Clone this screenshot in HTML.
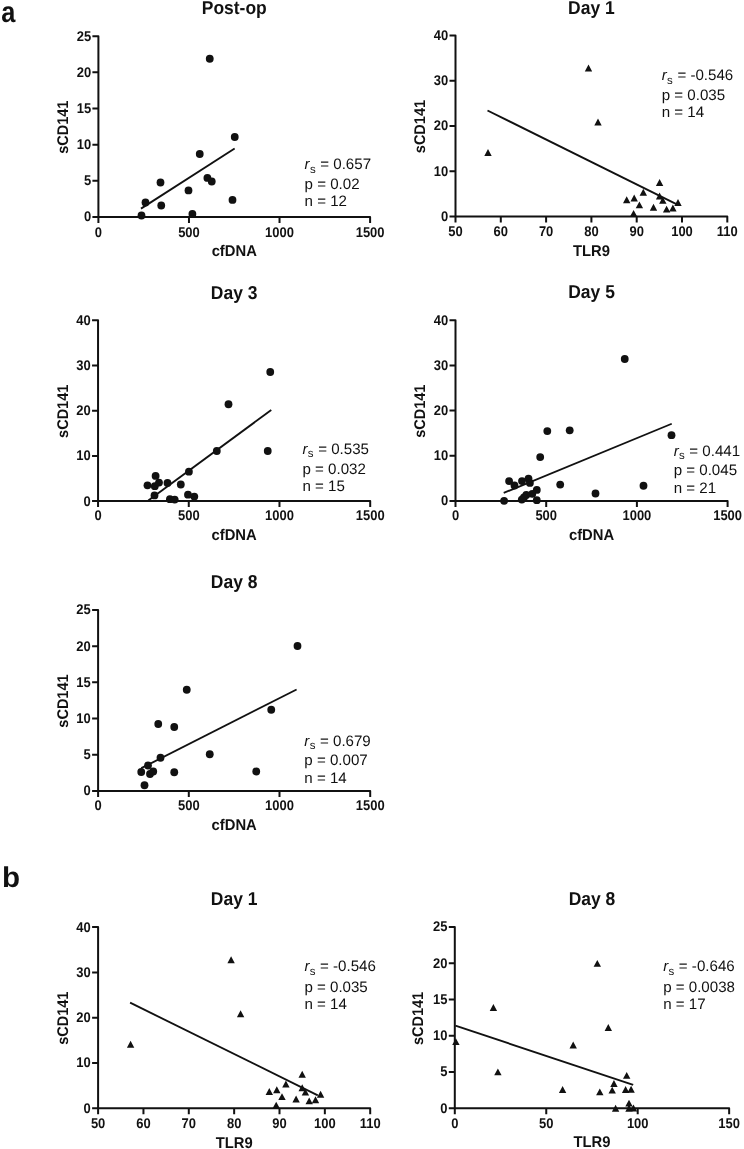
<!DOCTYPE html>
<html lang="en"><head><meta charset="utf-8"><title>Figure</title>
<style>html,body{margin:0;padding:0;background:#fff}svg{display:block;will-change:transform;text-rendering:geometricPrecision}</style></head>
<body>
<svg width="744" height="1149" viewBox="0 0 744 1149" font-family='"Liberation Sans", sans-serif' fill="#111">
<rect width="744" height="1149" fill="#fff"/>
<text transform="translate(1.30 22.00) scale(0.86 1)" font-size="29.5" font-weight="bold" text-anchor="start">a</text>
<text transform="translate(2.10 887.10) scale(1.03 1)" font-size="28.7" font-weight="bold" text-anchor="start">b</text>
<g><!-- Post-op -->
<text transform="translate(234.25 14.40) scale(0.935 1)" font-size="18.7" font-weight="bold" text-anchor="middle">Post-op</text>
<path d="M92.40 36.20H98.40V223.00M92.40 217.00H370.10v6.0M188.97 217.00v6.0M279.53 217.00v6.0M98.40 180.84h-6.0M98.40 144.68h-6.0M98.40 108.52h-6.0M98.40 72.36h-6.0" fill="none" stroke="#111" stroke-width="2" stroke-linejoin="round"/>
<text transform="translate(98.40 236.90) scale(0.92 1)" font-size="14.1" font-weight="bold" text-anchor="middle">0</text>
<text transform="translate(188.97 236.90) scale(0.92 1)" font-size="14.1" font-weight="bold" text-anchor="middle">500</text>
<text transform="translate(279.53 236.90) scale(0.92 1)" font-size="14.1" font-weight="bold" text-anchor="middle">1000</text>
<text transform="translate(370.10 236.90) scale(0.92 1)" font-size="14.1" font-weight="bold" text-anchor="middle">1500</text>
<text transform="translate(91.10 221.40) scale(0.92 1)" font-size="14.1" font-weight="bold" text-anchor="end">0</text>
<text transform="translate(91.10 185.24) scale(0.92 1)" font-size="14.1" font-weight="bold" text-anchor="end">5</text>
<text transform="translate(91.10 149.08) scale(0.92 1)" font-size="14.1" font-weight="bold" text-anchor="end">10</text>
<text transform="translate(91.10 112.92) scale(0.92 1)" font-size="14.1" font-weight="bold" text-anchor="end">15</text>
<text transform="translate(91.10 76.76) scale(0.92 1)" font-size="14.1" font-weight="bold" text-anchor="end">20</text>
<text transform="translate(91.10 40.60) scale(0.92 1)" font-size="14.1" font-weight="bold" text-anchor="end">25</text>
<text transform="translate(234.25 256.20) scale(0.955 1)" font-size="15.5" font-weight="bold" text-anchor="middle">cfDNA</text>
<text transform="translate(68.10 127.20) rotate(-90) scale(0.935 1)" font-size="15.5" font-weight="bold" text-anchor="middle">sCD141</text>
<line x1="141.00" y1="208.65" x2="234.65" y2="148.55" stroke="#111" stroke-width="1.85"/>
<circle cx="141.50" cy="215.50" r="3.9"/>
<circle cx="145.50" cy="202.50" r="3.9"/>
<circle cx="160.50" cy="182.50" r="3.9"/>
<circle cx="161.25" cy="205.50" r="3.9"/>
<circle cx="188.50" cy="190.40" r="3.9"/>
<circle cx="192.40" cy="213.90" r="3.9"/>
<circle cx="207.40" cy="177.90" r="3.9"/>
<circle cx="211.75" cy="181.50" r="3.9"/>
<circle cx="232.50" cy="199.90" r="3.9"/>
<circle cx="234.75" cy="137.00" r="3.9"/>
<circle cx="199.75" cy="154.00" r="3.9"/>
<circle cx="209.75" cy="58.75" r="3.9"/>
<g font-size="15.1">
<text x="304.60" y="169.10"><tspan font-style="italic">r</tspan><tspan font-size="11.5" dx="0.3" dy="3.5">s</tspan><tspan dx="0.4" dy="-3.5"> = 0.657</tspan></text>
<text x="304.60" y="188.70">p = 0.02</text>
<text x="304.60" y="206.10">n = 12</text>
</g>
</g>
<g><!-- Day 1 -->
<text transform="translate(591.40 13.70) scale(0.935 1)" font-size="18.7" font-weight="bold" text-anchor="middle">Day 1</text>
<path d="M449.50 35.50H455.50V222.45M449.50 216.45H727.30v6.0M500.80 216.45v6.0M546.10 216.45v6.0M591.40 216.45v6.0M636.70 216.45v6.0M682.00 216.45v6.0M455.50 171.21h-6.0M455.50 125.97h-6.0M455.50 80.74h-6.0" fill="none" stroke="#111" stroke-width="2" stroke-linejoin="round"/>
<text transform="translate(455.50 235.90) scale(0.92 1)" font-size="14.1" font-weight="bold" text-anchor="middle">50</text>
<text transform="translate(500.80 235.90) scale(0.92 1)" font-size="14.1" font-weight="bold" text-anchor="middle">60</text>
<text transform="translate(546.10 235.90) scale(0.92 1)" font-size="14.1" font-weight="bold" text-anchor="middle">70</text>
<text transform="translate(591.40 235.90) scale(0.92 1)" font-size="14.1" font-weight="bold" text-anchor="middle">80</text>
<text transform="translate(636.70 235.90) scale(0.92 1)" font-size="14.1" font-weight="bold" text-anchor="middle">90</text>
<text transform="translate(682.00 235.90) scale(0.92 1)" font-size="14.1" font-weight="bold" text-anchor="middle">100</text>
<text transform="translate(727.30 235.90) scale(0.92 1)" font-size="14.1" font-weight="bold" text-anchor="middle">110</text>
<text transform="translate(448.20 220.85) scale(0.92 1)" font-size="14.1" font-weight="bold" text-anchor="end">0</text>
<text transform="translate(448.20 175.61) scale(0.92 1)" font-size="14.1" font-weight="bold" text-anchor="end">10</text>
<text transform="translate(448.20 130.38) scale(0.92 1)" font-size="14.1" font-weight="bold" text-anchor="end">20</text>
<text transform="translate(448.20 85.14) scale(0.92 1)" font-size="14.1" font-weight="bold" text-anchor="end">30</text>
<text transform="translate(448.20 39.90) scale(0.92 1)" font-size="14.1" font-weight="bold" text-anchor="end">40</text>
<text transform="translate(591.40 255.65) scale(0.955 1)" font-size="15.5" font-weight="bold" text-anchor="middle">TLR9</text>
<text transform="translate(425.20 126.57) rotate(-90) scale(0.935 1)" font-size="15.5" font-weight="bold" text-anchor="middle">sCD141</text>
<line x1="487.50" y1="110.50" x2="675.90" y2="203.80" stroke="#111" stroke-width="1.85"/>
<path d="M488.00 149.00l3.7 6.9h-7.4zM588.50 64.50l3.7 6.9h-7.4zM598.00 118.50l3.7 6.9h-7.4zM659.60 179.10l3.7 6.9h-7.4zM643.30 188.80l3.7 6.9h-7.4zM626.70 196.30l3.7 6.9h-7.4zM634.20 194.60l3.7 6.9h-7.4zM659.60 192.50l3.7 6.9h-7.4zM662.80 196.90l3.7 6.9h-7.4zM639.40 201.40l3.7 6.9h-7.4zM653.50 203.80l3.7 6.9h-7.4zM666.60 205.70l3.7 6.9h-7.4zM672.90 204.50l3.7 6.9h-7.4zM678.00 199.10l3.7 6.9h-7.4zM633.60 209.90l3.7 6.9h-7.4z"/>
<g font-size="15.1">
<text x="661.75" y="80.30"><tspan font-style="italic">r</tspan><tspan font-size="11.5" dx="0.3" dy="3.5">s</tspan><tspan dx="0.4" dy="-3.5"> = -0.546</tspan></text>
<text x="661.75" y="100.00">p = 0.035</text>
<text x="661.75" y="117.20">n = 14</text>
</g>
</g>
<g><!-- Day 3 -->
<text transform="translate(234.12 298.50) scale(0.935 1)" font-size="18.7" font-weight="bold" text-anchor="middle">Day 3</text>
<path d="M92.05 320.30H98.05V507.10M92.05 501.10H370.20v6.0M188.77 501.10v6.0M279.48 501.10v6.0M98.05 455.90h-6.0M98.05 410.70h-6.0M98.05 365.50h-6.0" fill="none" stroke="#111" stroke-width="2" stroke-linejoin="round"/>
<text transform="translate(98.05 520.40) scale(0.92 1)" font-size="14.1" font-weight="bold" text-anchor="middle">0</text>
<text transform="translate(188.77 520.40) scale(0.92 1)" font-size="14.1" font-weight="bold" text-anchor="middle">500</text>
<text transform="translate(279.48 520.40) scale(0.92 1)" font-size="14.1" font-weight="bold" text-anchor="middle">1000</text>
<text transform="translate(370.20 520.40) scale(0.92 1)" font-size="14.1" font-weight="bold" text-anchor="middle">1500</text>
<text transform="translate(90.75 505.50) scale(0.92 1)" font-size="14.1" font-weight="bold" text-anchor="end">0</text>
<text transform="translate(90.75 460.30) scale(0.92 1)" font-size="14.1" font-weight="bold" text-anchor="end">10</text>
<text transform="translate(90.75 415.10) scale(0.92 1)" font-size="14.1" font-weight="bold" text-anchor="end">20</text>
<text transform="translate(90.75 369.90) scale(0.92 1)" font-size="14.1" font-weight="bold" text-anchor="end">30</text>
<text transform="translate(90.75 324.70) scale(0.92 1)" font-size="14.1" font-weight="bold" text-anchor="end">40</text>
<text transform="translate(234.12 540.30) scale(0.955 1)" font-size="15.5" font-weight="bold" text-anchor="middle">cfDNA</text>
<text transform="translate(67.75 411.30) rotate(-90) scale(0.935 1)" font-size="15.5" font-weight="bold" text-anchor="middle">sCD141</text>
<line x1="148.30" y1="500.60" x2="271.25" y2="410.00" stroke="#111" stroke-width="1.85"/>
<circle cx="147.50" cy="485.30" r="3.9"/>
<circle cx="155.60" cy="475.90" r="3.9"/>
<circle cx="154.80" cy="486.20" r="3.9"/>
<circle cx="159.00" cy="482.60" r="3.9"/>
<circle cx="167.50" cy="482.90" r="3.9"/>
<circle cx="154.50" cy="495.40" r="3.9"/>
<circle cx="169.90" cy="499.20" r="3.9"/>
<circle cx="174.70" cy="499.60" r="3.9"/>
<circle cx="180.80" cy="484.50" r="3.9"/>
<circle cx="188.00" cy="494.70" r="3.9"/>
<circle cx="194.30" cy="496.60" r="3.9"/>
<circle cx="188.90" cy="471.70" r="3.9"/>
<circle cx="216.80" cy="451.00" r="3.9"/>
<circle cx="270.25" cy="372.00" r="3.9"/>
<circle cx="228.50" cy="404.25" r="3.9"/>
<circle cx="267.75" cy="451.00" r="3.9"/>
<g font-size="15.1">
<text x="302.50" y="453.75"><tspan font-style="italic">r</tspan><tspan font-size="11.5" dx="0.3" dy="3.5">s</tspan><tspan dx="0.4" dy="-3.5"> = 0.535</tspan></text>
<text x="302.50" y="473.60">p = 0.032</text>
<text x="302.50" y="491.10">n = 15</text>
</g>
</g>
<g><!-- Day 5 -->
<text transform="translate(591.55 298.40) scale(0.935 1)" font-size="18.7" font-weight="bold" text-anchor="middle">Day 5</text>
<path d="M449.50 320.20H455.50V507.05M449.50 501.05H727.60v6.0M546.20 501.05v6.0M636.90 501.05v6.0M455.50 455.84h-6.0M455.50 410.62h-6.0M455.50 365.41h-6.0" fill="none" stroke="#111" stroke-width="2" stroke-linejoin="round"/>
<text transform="translate(455.50 520.45) scale(0.92 1)" font-size="14.1" font-weight="bold" text-anchor="middle">0</text>
<text transform="translate(546.20 520.45) scale(0.92 1)" font-size="14.1" font-weight="bold" text-anchor="middle">500</text>
<text transform="translate(636.90 520.45) scale(0.92 1)" font-size="14.1" font-weight="bold" text-anchor="middle">1000</text>
<text transform="translate(727.60 520.45) scale(0.92 1)" font-size="14.1" font-weight="bold" text-anchor="middle">1500</text>
<text transform="translate(448.20 505.45) scale(0.92 1)" font-size="14.1" font-weight="bold" text-anchor="end">0</text>
<text transform="translate(448.20 460.24) scale(0.92 1)" font-size="14.1" font-weight="bold" text-anchor="end">10</text>
<text transform="translate(448.20 415.02) scale(0.92 1)" font-size="14.1" font-weight="bold" text-anchor="end">20</text>
<text transform="translate(448.20 369.81) scale(0.92 1)" font-size="14.1" font-weight="bold" text-anchor="end">30</text>
<text transform="translate(448.20 324.60) scale(0.92 1)" font-size="14.1" font-weight="bold" text-anchor="end">40</text>
<text transform="translate(591.55 540.25) scale(0.955 1)" font-size="15.5" font-weight="bold" text-anchor="middle">cfDNA</text>
<text transform="translate(425.20 411.23) rotate(-90) scale(0.935 1)" font-size="15.5" font-weight="bold" text-anchor="middle">sCD141</text>
<line x1="503.70" y1="492.90" x2="671.75" y2="423.75" stroke="#111" stroke-width="1.85"/>
<circle cx="504.10" cy="500.80" r="3.9"/>
<circle cx="509.10" cy="481.10" r="3.9"/>
<circle cx="514.50" cy="485.50" r="3.9"/>
<circle cx="522.00" cy="481.10" r="3.9"/>
<circle cx="528.50" cy="478.60" r="3.9"/>
<circle cx="529.90" cy="482.90" r="3.9"/>
<circle cx="536.80" cy="489.90" r="3.9"/>
<circle cx="532.30" cy="493.80" r="3.9"/>
<circle cx="526.30" cy="495.00" r="3.9"/>
<circle cx="523.90" cy="497.40" r="3.9"/>
<circle cx="521.80" cy="499.60" r="3.9"/>
<circle cx="536.80" cy="500.20" r="3.9"/>
<circle cx="540.20" cy="457.10" r="3.9"/>
<circle cx="547.30" cy="431.10" r="3.9"/>
<circle cx="569.70" cy="430.30" r="3.9"/>
<circle cx="560.20" cy="484.60" r="3.9"/>
<circle cx="624.75" cy="359.00" r="3.9"/>
<circle cx="671.50" cy="435.20" r="3.9"/>
<circle cx="595.50" cy="493.50" r="3.9"/>
<circle cx="643.50" cy="485.75" r="3.9"/>
<g font-size="15.1">
<text x="673.70" y="455.80"><tspan font-style="italic">r</tspan><tspan font-size="11.5" dx="0.3" dy="3.5">s</tspan><tspan dx="0.4" dy="-3.5"> = 0.441</tspan></text>
<text x="673.70" y="475.20">p = 0.045</text>
<text x="673.70" y="492.80">n = 21</text>
</g>
</g>
<g><!-- Day 8 -->
<text transform="translate(234.15 588.20) scale(0.935 1)" font-size="18.7" font-weight="bold" text-anchor="middle">Day 8</text>
<path d="M92.10 610.00H98.10V796.90M92.10 790.90H370.20v6.0M188.80 790.90v6.0M279.50 790.90v6.0M98.10 754.72h-6.0M98.10 718.54h-6.0M98.10 682.36h-6.0M98.10 646.18h-6.0" fill="none" stroke="#111" stroke-width="2" stroke-linejoin="round"/>
<text transform="translate(98.10 809.80) scale(0.92 1)" font-size="14.1" font-weight="bold" text-anchor="middle">0</text>
<text transform="translate(188.80 809.80) scale(0.92 1)" font-size="14.1" font-weight="bold" text-anchor="middle">500</text>
<text transform="translate(279.50 809.80) scale(0.92 1)" font-size="14.1" font-weight="bold" text-anchor="middle">1000</text>
<text transform="translate(370.20 809.80) scale(0.92 1)" font-size="14.1" font-weight="bold" text-anchor="middle">1500</text>
<text transform="translate(90.80 795.30) scale(0.92 1)" font-size="14.1" font-weight="bold" text-anchor="end">0</text>
<text transform="translate(90.80 759.12) scale(0.92 1)" font-size="14.1" font-weight="bold" text-anchor="end">5</text>
<text transform="translate(90.80 722.94) scale(0.92 1)" font-size="14.1" font-weight="bold" text-anchor="end">10</text>
<text transform="translate(90.80 686.76) scale(0.92 1)" font-size="14.1" font-weight="bold" text-anchor="end">15</text>
<text transform="translate(90.80 650.58) scale(0.92 1)" font-size="14.1" font-weight="bold" text-anchor="end">20</text>
<text transform="translate(90.80 614.40) scale(0.92 1)" font-size="14.1" font-weight="bold" text-anchor="end">25</text>
<text transform="translate(234.15 830.10) scale(0.955 1)" font-size="15.5" font-weight="bold" text-anchor="middle">cfDNA</text>
<text transform="translate(67.80 701.05) rotate(-90) scale(0.935 1)" font-size="15.5" font-weight="bold" text-anchor="middle">sCD141</text>
<line x1="141.25" y1="768.20" x2="296.60" y2="689.50" stroke="#111" stroke-width="1.85"/>
<circle cx="141.25" cy="772.00" r="3.9"/>
<circle cx="144.50" cy="785.25" r="3.9"/>
<circle cx="148.00" cy="765.50" r="3.9"/>
<circle cx="150.00" cy="774.00" r="3.9"/>
<circle cx="153.25" cy="771.50" r="3.9"/>
<circle cx="160.50" cy="757.75" r="3.9"/>
<circle cx="158.25" cy="724.00" r="3.9"/>
<circle cx="174.25" cy="727.00" r="3.9"/>
<circle cx="174.25" cy="772.25" r="3.9"/>
<circle cx="186.75" cy="689.75" r="3.9"/>
<circle cx="209.75" cy="754.25" r="3.9"/>
<circle cx="297.50" cy="646.00" r="3.9"/>
<circle cx="271.25" cy="709.75" r="3.9"/>
<circle cx="256.25" cy="771.50" r="3.9"/>
<g font-size="15.1">
<text x="304.30" y="745.50"><tspan font-style="italic">r</tspan><tspan font-size="11.5" dx="0.3" dy="3.5">s</tspan><tspan dx="0.4" dy="-3.5"> = 0.679</tspan></text>
<text x="304.30" y="765.40">p = 0.007</text>
<text x="304.30" y="783.30">n = 14</text>
</g>
</g>
<g><!-- Day 1 -->
<text transform="translate(234.15 905.30) scale(0.935 1)" font-size="18.7" font-weight="bold" text-anchor="middle">Day 1</text>
<path d="M92.10 927.10H98.10V1114.20M92.10 1108.20H370.20v6.0M143.45 1108.20v6.0M188.80 1108.20v6.0M234.15 1108.20v6.0M279.50 1108.20v6.0M324.85 1108.20v6.0M98.10 1062.92h-6.0M98.10 1017.65h-6.0M98.10 972.38h-6.0" fill="none" stroke="#111" stroke-width="2" stroke-linejoin="round"/>
<text transform="translate(98.10 1127.70) scale(0.92 1)" font-size="14.1" font-weight="bold" text-anchor="middle">50</text>
<text transform="translate(143.45 1127.70) scale(0.92 1)" font-size="14.1" font-weight="bold" text-anchor="middle">60</text>
<text transform="translate(188.80 1127.70) scale(0.92 1)" font-size="14.1" font-weight="bold" text-anchor="middle">70</text>
<text transform="translate(234.15 1127.70) scale(0.92 1)" font-size="14.1" font-weight="bold" text-anchor="middle">80</text>
<text transform="translate(279.50 1127.70) scale(0.92 1)" font-size="14.1" font-weight="bold" text-anchor="middle">90</text>
<text transform="translate(324.85 1127.70) scale(0.92 1)" font-size="14.1" font-weight="bold" text-anchor="middle">100</text>
<text transform="translate(370.20 1127.70) scale(0.92 1)" font-size="14.1" font-weight="bold" text-anchor="middle">110</text>
<text transform="translate(90.80 1112.60) scale(0.92 1)" font-size="14.1" font-weight="bold" text-anchor="end">0</text>
<text transform="translate(90.80 1067.33) scale(0.92 1)" font-size="14.1" font-weight="bold" text-anchor="end">10</text>
<text transform="translate(90.80 1022.05) scale(0.92 1)" font-size="14.1" font-weight="bold" text-anchor="end">20</text>
<text transform="translate(90.80 976.77) scale(0.92 1)" font-size="14.1" font-weight="bold" text-anchor="end">30</text>
<text transform="translate(90.80 931.50) scale(0.92 1)" font-size="14.1" font-weight="bold" text-anchor="end">40</text>
<text transform="translate(234.15 1147.90) scale(0.955 1)" font-size="15.5" font-weight="bold" text-anchor="middle">TLR9</text>
<text transform="translate(67.80 1018.25) rotate(-90) scale(0.935 1)" font-size="15.5" font-weight="bold" text-anchor="middle">sCD141</text>
<line x1="130.10" y1="1002.65" x2="317.80" y2="1095.35" stroke="#111" stroke-width="1.85"/>
<path d="M130.60 1040.75l3.7 6.9h-7.4zM231.10 956.25l3.7 6.9h-7.4zM240.60 1010.25l3.7 6.9h-7.4zM302.20 1070.85l3.7 6.9h-7.4zM285.90 1080.55l3.7 6.9h-7.4zM269.30 1088.05l3.7 6.9h-7.4zM276.80 1086.35l3.7 6.9h-7.4zM302.20 1084.25l3.7 6.9h-7.4zM305.40 1088.65l3.7 6.9h-7.4zM282.00 1093.15l3.7 6.9h-7.4zM296.10 1095.55l3.7 6.9h-7.4zM309.20 1097.45l3.7 6.9h-7.4zM315.50 1096.25l3.7 6.9h-7.4zM320.60 1090.85l3.7 6.9h-7.4zM276.20 1101.65l3.7 6.9h-7.4z"/>
<g font-size="15.1">
<text x="304.40" y="971.30"><tspan font-style="italic">r</tspan><tspan font-size="11.5" dx="0.3" dy="3.5">s</tspan><tspan dx="0.4" dy="-3.5"> = -0.546</tspan></text>
<text x="304.40" y="991.50">p = 0.035</text>
<text x="304.40" y="1009.30">n = 14</text>
</g>
</g>
<g><!-- Day 8 -->
<text transform="translate(591.98 905.20) scale(0.935 1)" font-size="18.7" font-weight="bold" text-anchor="middle">Day 8</text>
<path d="M448.80 927.00H454.80V1114.20M448.80 1108.20H729.15v6.0M546.25 1108.20v6.0M637.70 1108.20v6.0M454.80 1071.96h-6.0M454.80 1035.72h-6.0M454.80 999.48h-6.0M454.80 963.24h-6.0" fill="none" stroke="#111" stroke-width="2" stroke-linejoin="round"/>
<text transform="translate(454.80 1127.90) scale(0.92 1)" font-size="14.1" font-weight="bold" text-anchor="middle">0</text>
<text transform="translate(546.25 1127.90) scale(0.92 1)" font-size="14.1" font-weight="bold" text-anchor="middle">50</text>
<text transform="translate(637.70 1127.90) scale(0.92 1)" font-size="14.1" font-weight="bold" text-anchor="middle">100</text>
<text transform="translate(729.15 1127.90) scale(0.92 1)" font-size="14.1" font-weight="bold" text-anchor="middle">150</text>
<text transform="translate(447.50 1112.60) scale(0.92 1)" font-size="14.1" font-weight="bold" text-anchor="end">0</text>
<text transform="translate(447.50 1076.36) scale(0.92 1)" font-size="14.1" font-weight="bold" text-anchor="end">5</text>
<text transform="translate(447.50 1040.12) scale(0.92 1)" font-size="14.1" font-weight="bold" text-anchor="end">10</text>
<text transform="translate(447.50 1003.88) scale(0.92 1)" font-size="14.1" font-weight="bold" text-anchor="end">15</text>
<text transform="translate(447.50 967.64) scale(0.92 1)" font-size="14.1" font-weight="bold" text-anchor="end">20</text>
<text transform="translate(447.50 931.40) scale(0.92 1)" font-size="14.1" font-weight="bold" text-anchor="end">25</text>
<text transform="translate(591.98 1147.40) scale(0.955 1)" font-size="15.5" font-weight="bold" text-anchor="middle">TLR9</text>
<text transform="translate(423.30 1018.40) rotate(-90) scale(0.935 1)" font-size="15.5" font-weight="bold" text-anchor="middle">sCD141</text>
<line x1="455.40" y1="1025.70" x2="633.20" y2="1084.80" stroke="#111" stroke-width="1.85"/>
<path d="M455.90 1038.20l3.7 6.9h-7.4zM493.40 1004.00l3.7 6.9h-7.4zM497.90 1068.40l3.7 6.9h-7.4zM573.20 1041.50l3.7 6.9h-7.4zM562.60 1086.00l3.7 6.9h-7.4zM597.30 959.90l3.7 6.9h-7.4zM608.30 1024.10l3.7 6.9h-7.4zM626.70 1071.90l3.7 6.9h-7.4zM613.95 1080.00l3.7 6.9h-7.4zM599.80 1088.40l3.7 6.9h-7.4zM612.20 1086.70l3.7 6.9h-7.4zM625.60 1086.00l3.7 6.9h-7.4zM631.10 1085.80l3.7 6.9h-7.4zM629.00 1099.70l3.7 6.9h-7.4zM615.60 1104.80l3.7 6.9h-7.4zM629.00 1104.80l3.7 6.9h-7.4zM633.50 1104.50l3.7 6.9h-7.4z"/>
<g font-size="15.1">
<text x="663.20" y="971.30"><tspan font-style="italic">r</tspan><tspan font-size="11.5" dx="0.3" dy="3.5">s</tspan><tspan dx="0.4" dy="-3.5"> = -0.646</tspan></text>
<text x="663.20" y="991.50">p = 0.0038</text>
<text x="663.20" y="1009.30">n = 17</text>
</g>
</g>
</svg>
</body></html>
